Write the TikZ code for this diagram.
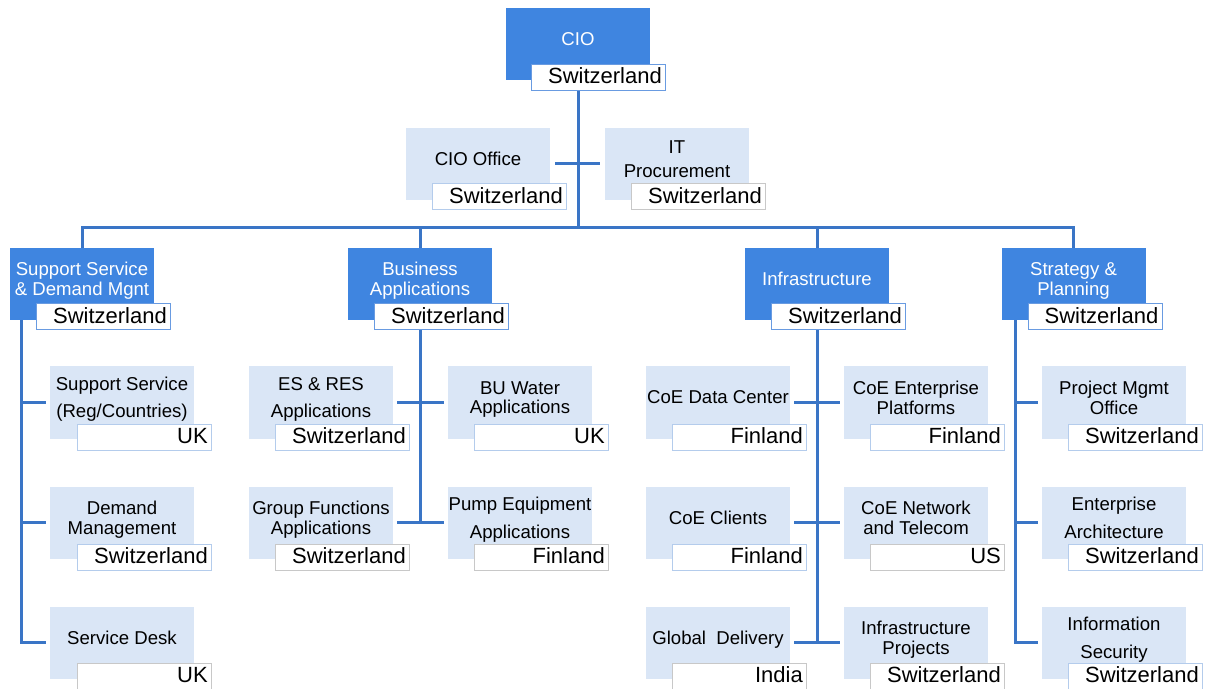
\documentclass[tikz,border=0pt]{standalone}
\usepackage{fontspec}
\setmainfont{Liberation Sans}
\usetikzlibrary{calc}

\definecolor{headblue}{RGB}{63,133,224}
\definecolor{unitblue}{RGB}{218,230,246}
\definecolor{linkblue}{RGB}{58,117,198}
\definecolor{headsite}{RGB}{105,155,225}
\definecolor{unitsite}{RGB}{180,204,236}
\definecolor{greysite}{RGB}{200,200,200}

\begin{document}
\begin{tikzpicture}[x=0.5pt,y=-0.5pt,
  head/.style={fill=headblue,text=white,minimum width=72pt,minimum height=36pt,
    align=center,inner xsep=0pt,inner ysep=1pt,text depth=5pt,font=\fontsize{9.3}{9.8}\selectfont},
  unit/.style={head,fill=unitblue,text=black},
  site/.style={draw=unitsite,fill=white,line width=0.6pt,anchor=south east,
    minimum width=67pt,minimum height=13pt,text width=63pt,align=right,
    inner xsep=2pt,inner ysep=0pt,text height=8.5pt,text depth=2pt,
    font=\fontsize{11}{13}\selectfont},
  headloc/.style={site,draw=headsite},
  greyloc/.style={site,draw=greysite},
  link/.style={draw=linkblue,line width=1.5pt}]

  \useasboundingbox (0,0) rectangle (1209,689);

  % top
  \node[head] (cio) at (578,44.5) {CIO};
  \node[headloc] (cioloc) at ([shift={(8pt,-5pt)}]cio.south east) {Switzerland};
  \node[unit] (ciooff) at (478,164) {CIO Office};
  \node[site] (ciooffloc) at ([shift={(8.5pt,-5pt)}]ciooff.south east) {Switzerland};
  \node[unit] (itproc) at (677,164) {IT\\[2pt]Procurement};
  \node[greyloc] (itprocloc) at ([shift={(8.5pt,-5pt)}]itproc.south east) {Switzerland};

  % departments
  \node[head] (sup) at (82,284) {Support Service\\\& Demand Mgnt};
  \node[headloc] (suploc) at ([shift={(8.5pt,-5pt)}]sup.south east) {Switzerland};
  \node[head] (biz) at (420,284) {Business\\Applications};
  \node[headloc] (bizloc) at ([shift={(8.5pt,-5pt)}]biz.south east) {Switzerland};
  \node[head] (infra) at (817,284) {Infrastructure};
  \node[headloc] (infraloc) at ([shift={(8.5pt,-5pt)}]infra.south east) {Switzerland};
  \node[head] (strat) at (1073.5,284) {Strategy \&\\Planning};
  \node[headloc] (stratloc) at ([shift={(8.5pt,-5pt)}]strat.south east) {Switzerland};

  % support service
  \node[unit] (sup1) at (122,402.5) {Support Service\\[3.7pt](Reg/Countries)};
  \node[site] (sup1loc) at ([shift={(9pt,-6pt)}]sup1.south east) {UK};
  \node[unit] (sup2) at (122,522.5) {Demand\\Management};
  \node[site] (sup2loc) at ([shift={(9pt,-6pt)}]sup2.south east) {Switzerland};
  \node[unit] (sup3) at (122,642.5) {Service Desk};
  \node[greyloc] (sup3loc) at ([shift={(9pt,-5.5pt)}]sup3.south east) {UK};

  % business applications
  \node[unit] (bz1) at (321,402.5) {ES \& RES\\[4pt]Applications};
  \node[site] (bz1loc) at ([shift={(8.5pt,-6pt)}]bz1.south east) {Switzerland};
  \node[unit] (bz2) at (520,402.5) {BU Water\\Applications};
  \node[site] (bz2loc) at ([shift={(8.5pt,-6pt)}]bz2.south east) {UK};
  \node[unit] (bz3) at (321,522.5) {Group Functions\\Applications};
  \node[greyloc] (bz3loc) at ([shift={(8.5pt,-6pt)}]bz3.south east) {Switzerland};
  \node[unit] (bz4) at (520,522.5) {Pump Equipment\\[4pt]Applications};
  \node[greyloc] (bz4loc) at ([shift={(8.5pt,-6pt)}]bz4.south east) {Finland};

  % infrastructure
  \node[unit] (inf1) at (718,402.5) {CoE Data Center};
  \node[site] (inf1loc) at ([shift={(8.5pt,-6pt)}]inf1.south east) {Finland};
  \node[unit] (inf2) at (916,402.5) {CoE Enterprise\\Platforms};
  \node[site] (inf2loc) at ([shift={(8.5pt,-6pt)}]inf2.south east) {Finland};
  \node[unit] (inf3) at (718,522.5) {CoE Clients};
  \node[site] (inf3loc) at ([shift={(8.5pt,-6pt)}]inf3.south east) {Finland};
  \node[unit] (inf4) at (916,522.5) {CoE Network\\and Telecom};
  \node[greyloc] (inf4loc) at ([shift={(8.5pt,-6pt)}]inf4.south east) {US};
  \node[unit] (inf5) at (718,642.5) {Global\ \ Delivery};
  \node[greyloc] (inf5loc) at ([shift={(8.5pt,-5.5pt)}]inf5.south east) {India};
  \node[unit] (inf6) at (916,642.5) {Infrastructure\\Projects};
  \node[greyloc] (inf6loc) at ([shift={(8.5pt,-5.5pt)}]inf6.south east) {Switzerland};

  % strategy & planning
  \node[unit] (str1) at (1114,402.5) {Project Mgmt\\Office};
  \node[site] (str1loc) at ([shift={(8.5pt,-6pt)}]str1.south east) {Switzerland};
  \node[unit] (str2) at (1114,522.5) {Enterprise\\[4pt]Architecture};
  \node[site] (str2loc) at ([shift={(8.5pt,-6pt)}]str2.south east) {Switzerland};
  \node[unit] (str3) at (1114,642.5) {Information\\[4pt]Security};
  \node[site] (str3loc) at ([shift={(8.5pt,-5.5pt)}]str3.south east) {Switzerland};

  % connectors
  \coordinate (bus) at (578,228);
  \draw[link] (cio.south |- cioloc.south) -- (bus);
  \draw[link] ([xshift=2.5pt]ciooff.east) -- ([xshift=-2.5pt]itproc.west);
  \draw[link] (bus) -| (sup.north);
  \draw[link] (bus) -| (biz.north);
  \draw[link] (bus) -| (infra.north);
  \draw[link] (bus) -| (strat.north);

  \draw[link] ([xshift=6pt]sup.south west) |- ([xshift=-2pt]sup3.west);
  \draw[link] ([xshift=6pt]sup.south west) |- ([xshift=-2pt]sup1.west);
  \draw[link] ([xshift=6pt]sup.south west) |- ([xshift=-2pt]sup2.west);

  \draw[link] (biz.south |- bizloc.south) -- (biz.south |- bz3.east);
  \draw[link] ([xshift=2pt]bz1.east) -- ([xshift=-2pt]bz2.west);
  \draw[link] ([xshift=2pt]bz3.east) -- ([xshift=-2pt]bz4.west);

  \draw[link] (infra.south |- infraloc.south) -- (infra.south |- inf5.east);
  \draw[link] ([xshift=2pt]inf1.east) -- ([xshift=-2pt]inf2.west);
  \draw[link] ([xshift=2pt]inf3.east) -- ([xshift=-2pt]inf4.west);
  \draw[link] ([xshift=2pt]inf5.east) -- ([xshift=-2pt]inf6.west);

  \draw[link] ([xshift=7pt]strat.south west) |- ([xshift=-2pt]str3.west);
  \draw[link] ([xshift=7pt]strat.south west) |- ([xshift=-2pt]str1.west);
  \draw[link] ([xshift=7pt]strat.south west) |- ([xshift=-2pt]str2.west);

\end{tikzpicture}
\end{document}
